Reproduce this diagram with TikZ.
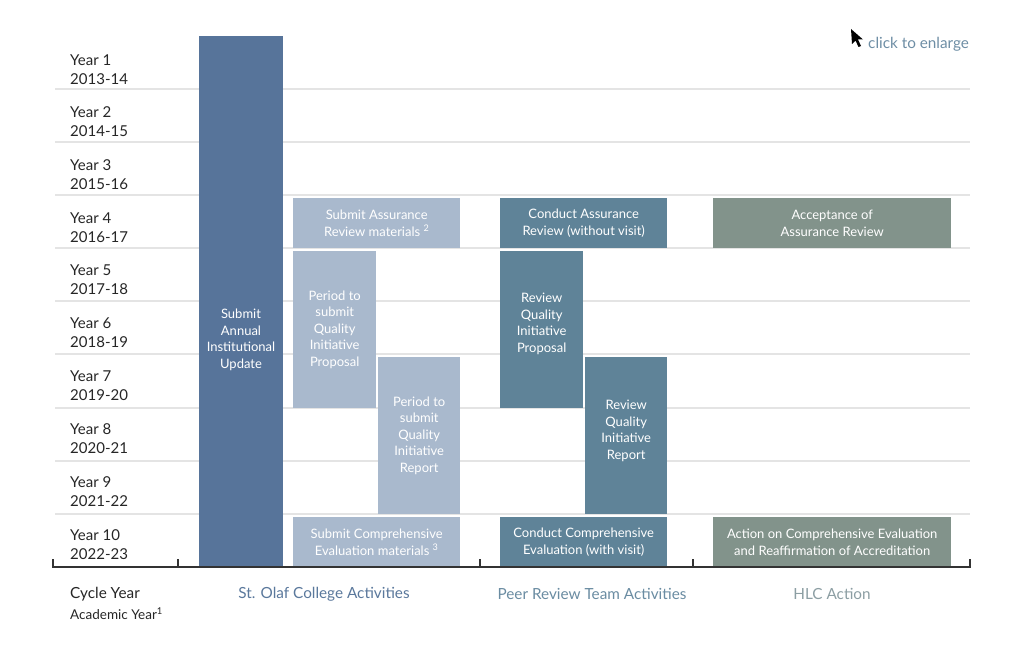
\documentclass[tikz,border=0pt]{standalone}
\usepackage{fontspec}
\setmainfont{Lato}
\usepackage{tikz}

\definecolor{olafdark}{HTML}{57749A}
\definecolor{olaflite}{HTML}{A9B9CD}
\definecolor{peer}{HTML}{5F8398}
\definecolor{hlc}{HTML}{82938B}
\definecolor{gridgray}{HTML}{E4E4E4}
\definecolor{olaftxt}{HTML}{5A789C}
\definecolor{peertxt}{HTML}{6A8CA2}
\definecolor{hlctxt}{HTML}{8C9EA3}
\definecolor{linktxt}{HTML}{6E8EA5}

\begin{document}
\begin{tikzpicture}[x=1pt, y=-1pt,
  yr/.style = {anchor=west, align=left, inner sep=0pt, text=black!85, font=\fontsize{15}{19}\selectfont},
  box/.style = {anchor=north west, align=center, inner sep=0pt, text=white, font=\fontsize{13}{16.5}\selectfont},
  wide/.style = {box, minimum width=167pt, minimum height=50pt},
  narrow/.style = {box, minimum width=83pt, minimum height=157pt},
  grp/.style = {font=\fontsize{15.3}{18}\selectfont, inner sep=0pt},
  grid/.style = {gridgray, line width=1.2pt}]
\fill[white] (0,0) rectangle (1024,660);
\useasboundingbox (0,0) rectangle (1024,660);

% row lines
\draw[grid] (55,89) -- (970,89);
\draw[grid] (55,142) -- (970,142);
\draw[grid] (55,195) -- (970,195);
\draw[grid] (55,248) -- (970,248);
\draw[grid] (55,301) -- (970,301);
\draw[grid] (55,354) -- (970,354);
\draw[grid] (55,408) -- (970,408);
\draw[grid] (55,461) -- (970,461);
\draw[grid] (55,514) -- (970,514);

% cycle years
\node[yr] (y1) at (70,70) {Year 1\\2013-14};
\node[yr] (y2) at (70,122) {Year 2\\2014-15};
\node[yr] (y3) at (70,175) {Year 3\\2015-16};
\node[yr] (y4) at (70,228) {Year 4\\2016-17};
\node[yr] (y5) at (70,280) {Year 5\\2017-18};
\node[yr] (y6) at (70,333) {Year 6\\2018-19};
\node[yr] (y7) at (70,386) {Year 7\\2019-20};
\node[yr] (y8) at (70,439) {Year 8\\2020-21};
\node[yr] (y9) at (70,492) {Year 9\\2021-22};
\node[yr] (y10) at (70,545) {Year 10\\2022-23};

% St. Olaf
\node[box, fill=olafdark, minimum width=84pt, minimum height=531pt] (upd) at (199,36) {};
\node[box, anchor=center] (updtxt) at (241,340) {Submit\\Annual\\Institutional\\Update};
\node[wide, fill=olaflite] (sam) at (293,198) {Submit Assurance\\Review materials \textsuperscript{2}};
\node[narrow, fill=olaflite] (pqp) at (293,251) {Period to\\submit\\Quality\\Initiative\\Proposal};
\node[narrow, fill=olaflite, minimum width=82pt] (pqr) at (378,357) {Period to\\submit\\Quality\\Initiative\\Report};
\node[wide, fill=olaflite] (sce) at (293,517) {Submit Comprehensive\\Evaluation materials \textsuperscript{3}};

% peer review
\node[wide, fill=peer] (car) at (500,198) {Conduct Assurance\\Review (without visit)};
\node[narrow, fill=peer, minimum height=145pt] (rqp) at (500,251) {Review\\Quality\\Initiative\\Proposal};
\fill[peer] (rqp.south west) rectangle (583,408);
\node[narrow, fill=peer, minimum width=82pt, minimum height=147pt] (rqr) at (585,357) {Review\\Quality\\Initiative\\Report};
\fill[peer] (rqr.south west) rectangle (667,514);
\node[wide, fill=peer] (cce) at (500,517) {Conduct Comprehensive\\Evaluation (with visit)};

% HLC
\node[wide, fill=hlc, minimum width=238pt] (acc) at (713,198) {Acceptance of\\Assurance Review};
\node[wide, fill=hlc, minimum width=238pt] (act) at (713,517) {Action on Comprehensive Evaluation\\and Reaffirmation of Accreditation};

% axis
\draw[black!80, line width=1.3pt] (53,559) -- (53,567) -- (970,567) -- (970,559);
\draw[black!80, line width=1.3pt] (178,559) -- (178,567);
\draw[black!80, line width=1.3pt] (480,559) -- (480,567);
\draw[black!80, line width=1.3pt] (693,559) -- (693,567);

\node[grp, anchor=west, text=black!85] (cy) at (70,594) {Cycle Year};
\node[grp, anchor=west, text=black!85, font=\fontsize{13.5}{15}\selectfont] (ay) at (70,614) {Academic Year\textsuperscript{1}};
\node[grp, text=olaftxt] (g1) at (324,594) {St. Olaf College Activities};
\node[grp, text=peertxt] (g2) at (592,594) {Peer Review Team Activities};
\node[grp, text=hlctxt] (g3) at (832,594) {HLC Action};

% link
\fill[black] (851,29) -- (852,44) -- (855.5,40.5) -- (858.5,47) -- (861,46) -- (858,39.5) -- (863,39.5) -- cycle;
\node[grp, anchor=west, text=linktxt] (lnk) at (868,44) {click to enlarge};
\end{tikzpicture}
\end{document}
